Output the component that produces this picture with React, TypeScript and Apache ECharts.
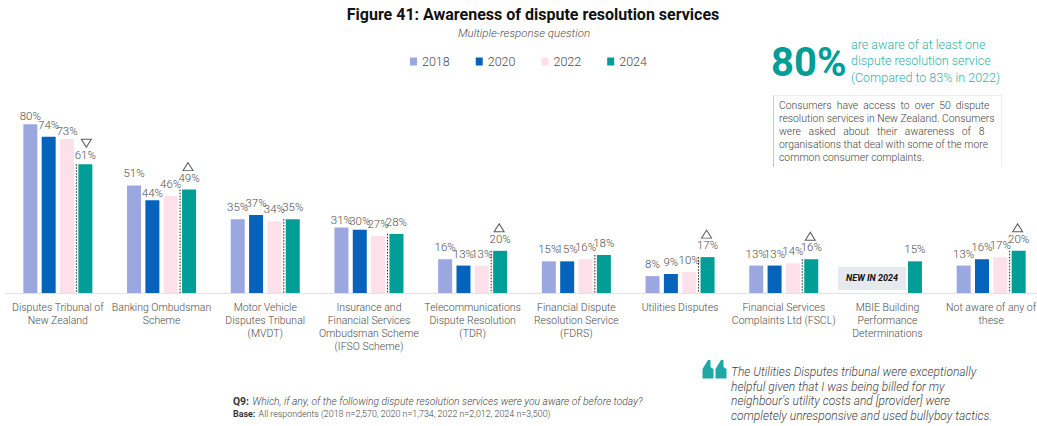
import React, { useEffect, useRef } from "react";
import * as echarts from "echarts";

const categories = [
  "Disputes Tribunal of\nNew Zealand",
  "Banking Ombudsman\nScheme",
  "Motor Vehicle\nDisputes Tribunal\n(MVDT)",
  "Insurance and\nFinancial Services\nOmbudsman Scheme\n(IFSO Scheme)",
  "Telecommunications\nDispute Resolution\n(TDR)",
  "Financial Dispute\nResolution Service\n(FDRS)",
  "Utilities Disputes",
  "Financial Services\nComplaints Ltd (FSCL)",
  "MBIE Building\nPerformance\nDeterminations",
  "Not aware of any of\nthese",
];
const years = ["2018", "2020", "2022", "2024"];
const v2018 = [80, 51, 35, 31, 16, 15, 8, 13, null, 13];
const v2020 = [74, 44, 37, 30, 13, 15, 9, 13, null, 16];
const v2022 = [73, 46, 34, 27, 13, 16, 10, 14, null, 17];
const v2024 = [61, 49, 35, 28, 20, 18, 17, 16, 15, 20];
const sigUp = [null, 49, null, null, 20, null, 17, 16, null, 20];
const sigDown = [61, null, null, null, null, null, null, null, null, null];
const dividerCats = [0, 1, 2, 3, 4, 5, 6, 7, 9];
const colors = ["#9ba8e0", "#0563bb", "#fde0ea", "#009e96"];
// labels sitting closer to their bar than the usual gap: "seriesIndex-categoryIndex"
const tightLabels: Record<string, number> = { "0-0": 2, "0-3": 2, "1-1": 1, "1-3": 3, "2-0": 2, "3-0": 3 };

const FONT = "Roboto";
const GREY = "#4d4d4d";
const TEAL_LIGHT = "#2fb3ad";

const calloutLines = ["are aware of at least one", "dispute resolution service", "(Compared to 83% in 2022)"];
const boxLines = [
  "Consumers  have  access  to  over  50  dispute",
  "resolution services in New Zealand. Consumers",
  "were   asked   about   their   awareness   of   8",
  "organisations that deal with some of the more",
  "common consumer complaints.",
];
const quoteLines = [
  "The Utilities Disputes tribunal were exceptionally",
  "helpful given that I was being billed for my",
  "neighbour's utility costs and [provider] were",
  "completely unresponsive and used bullyboy tactics.",
];

const txt = (x: number, y: number, text: string, style: any) => ({
  type: "text",
  x,
  y,
  silent: true,
  style: { text, fontFamily: FONT, fill: GREY, textVerticalAlign: "middle", verticalAlign: "middle", ...style },
});

export default function App() {
  const ref = useRef<HTMLDivElement>(null);
  useEffect(() => {
    const chart = echarts.init(ref.current!, null, { renderer: "svg" });
    const seriesValues = [v2018, v2020, v2022, v2024];
    const bars = seriesValues.map((vals, i) => ({
      type: "bar",
      name: years[i],
      data: vals.map((v, c) => {
        const d = tightLabels[`${i}-${c}`];
        return d === undefined ? v : { value: v, label: { distance: d } };
      }),
      barWidth: 14,
      barGap: "31%",
      itemStyle: { color: colors[i] },
      label: {
        show: true,
        position: "top",
        distance: 6,
        formatter: "{c}%",
        fontFamily: FONT,
        fontWeight: 300,
        fontSize: 11.5,
        color: GREY,
        textBorderWidth: 0,
      },
    }));
    const tri = (data: any[], rotate: number, offX: number, offY: number) => ({
      type: "scatter",
      data,
      symbol: "triangle",
      symbolSize: [10, 8],
      symbolRotate: rotate,
      symbolOffset: [offX, offY],
      itemStyle: { color: "rgba(0,0,0,0)", borderColor: "#333", borderWidth: 1 },
      silent: true,
      z: 5,
    });
    chart.setOption({
      animation: false,
      grid: { left: 6, top: 82, width: 1037, height: 211, outerBoundsMode: "none" },
      legend: {
        data: years,
        left: 405,
        top: 50,
        icon: "rect",
        itemWidth: 7,
        itemHeight: 8,
        itemGap: 26,
        textStyle: { fontFamily: FONT, fontWeight: 300, fontSize: 12.5, color: GREY },
        selectedMode: false,
      },
      xAxis: {
        type: "category",
        data: categories,
        axisLine: { lineStyle: { color: "#e2e2e2" } },
        axisTick: { show: false },
        axisLabel: {
          interval: 0,
          margin: 8,
          fontFamily: FONT,
          fontWeight: 300,
          fontSize: 10.5,
          lineHeight: 13,
          color: GREY,
        },
      },
      yAxis: { type: "value", min: 0, max: 100, show: false },
      series: [
        ...bars,
        tri(sigUp, 0, 26.5, -23),
        tri(sigDown, 180, 28.5, -21),
        {
          type: "custom",
          silent: true,
          z: 4,
          data: dividerCats.map((c) => [c, v2024[c]]),
          renderItem: (_: any, api: any) => {
            const p = api.coord([api.value(0), api.value(1)]);
            const b = api.coord([api.value(0), 0]);
            return {
              type: "line",
              shape: { x1: p[0] + 18.5, y1: p[1], x2: p[0] + 18.5, y2: b[1] },
              style: { stroke: "#222", lineWidth: 1, lineDash: [1.5, 1.5] },
            };
          },
        },
      ],
      graphic: [
        txt(533, 14, "Figure 41: Awareness of dispute resolution services", { fontSize: 16, fontWeight: 700, fill: "#111", textAlign: "center", align: "center" }),
        txt(524, 33, "Multiple-response question", { fontSize: 11.5, fontStyle: "italic", fontWeight: 300, textAlign: "center", align: "center" }),
        txt(771, 62, "80%", { fontSize: 40, fontWeight: 700, fill: "#009e96" }),
        ...calloutLines.map((l, i) => txt(851, 44 + i * 16.5, l, { fontSize: 12.5, fontWeight: 300, fill: TEAL_LIGHT })),
        {
          type: "polyline",
          silent: true,
          shape: { points: [[773.5, 95.5], [1001.5, 95.5], [1001.5, 167]] },
          style: { stroke: "#ececec", fill: "none", lineWidth: 1 },
        },
        {
          type: "line",
          silent: true,
          shape: { x1: 773.5, y1: 95.5, x2: 773.5, y2: 167 },
          style: { stroke: "#c8c8c8", lineWidth: 1 },
        },
        ...boxLines.map((l, i) => txt(779, 105 + i * 13, l, { fontSize: 10.4, fontWeight: 300, fill: "#444" })),
        {
          type: "rect",
          silent: true,
          shape: { x: 838, y: 267, width: 68, height: 23 },
          style: { fill: "#e6e9ee" },
        },
        txt(872, 278, "NEW IN 2024", { fontSize: 9, fontWeight: 700, fontStyle: "italic", fill: "#111", textAlign: "center", align: "center" }),
        {
          type: "polygon",
          silent: true,
          shape: { points: [[708, 360], [710.5, 360], [710.5, 367], [713.5, 369], [713.5, 378.5], [702.5, 378.5], [702.5, 369]] },
          style: { fill: "#1fa8a4" },
        },
        {
          type: "polygon",
          silent: true,
          shape: { points: [[721, 360], [723.5, 360], [723.5, 367], [726.5, 369], [726.5, 378.5], [715.5, 378.5], [715.5, 369]] },
          style: { fill: "#1fa8a4" },
        },
        ...quoteLines.map((l, i) => txt(731, 372 + i * 14.7, l, { fontSize: 12, fontStyle: "italic", fontWeight: 300, fill: "#444" })),
        {
          type: "text",
          x: 233,
          y: 395,
          silent: true,
          style: {
            text: "{b|Q9:} {i|Which, if any, of the following dispute resolution services were you aware of before today?}",
            rich: {
              b: { fontFamily: FONT, fontWeight: 700, fontSize: 10.3, fill: "#333" },
              i: { fontFamily: FONT, fontStyle: "italic", fontWeight: 300, fontSize: 10.3, fill: "#444" },
            },
          },
        },
        {
          type: "text",
          x: 233,
          y: 408,
          silent: true,
          style: {
            text: "{b|Base:} {i|All respondents (2018 n=2,570, 2020 n=1,734, 2022 n=2,012, 2024 n=3,500)}",
            rich: {
              b: { fontFamily: FONT, fontWeight: 700, fontSize: 8.9, fill: "#333" },
              i: { fontFamily: FONT, fontWeight: 300, fontSize: 8.9, fill: "#444" },
            },
          },
        },
      ],
    });
    return () => chart.dispose();
  }, []);
  return <div ref={ref} style={{ position: "fixed", left: 0, top: 0, width: 1037, height: 426, background: "#fff" }} />;
}
